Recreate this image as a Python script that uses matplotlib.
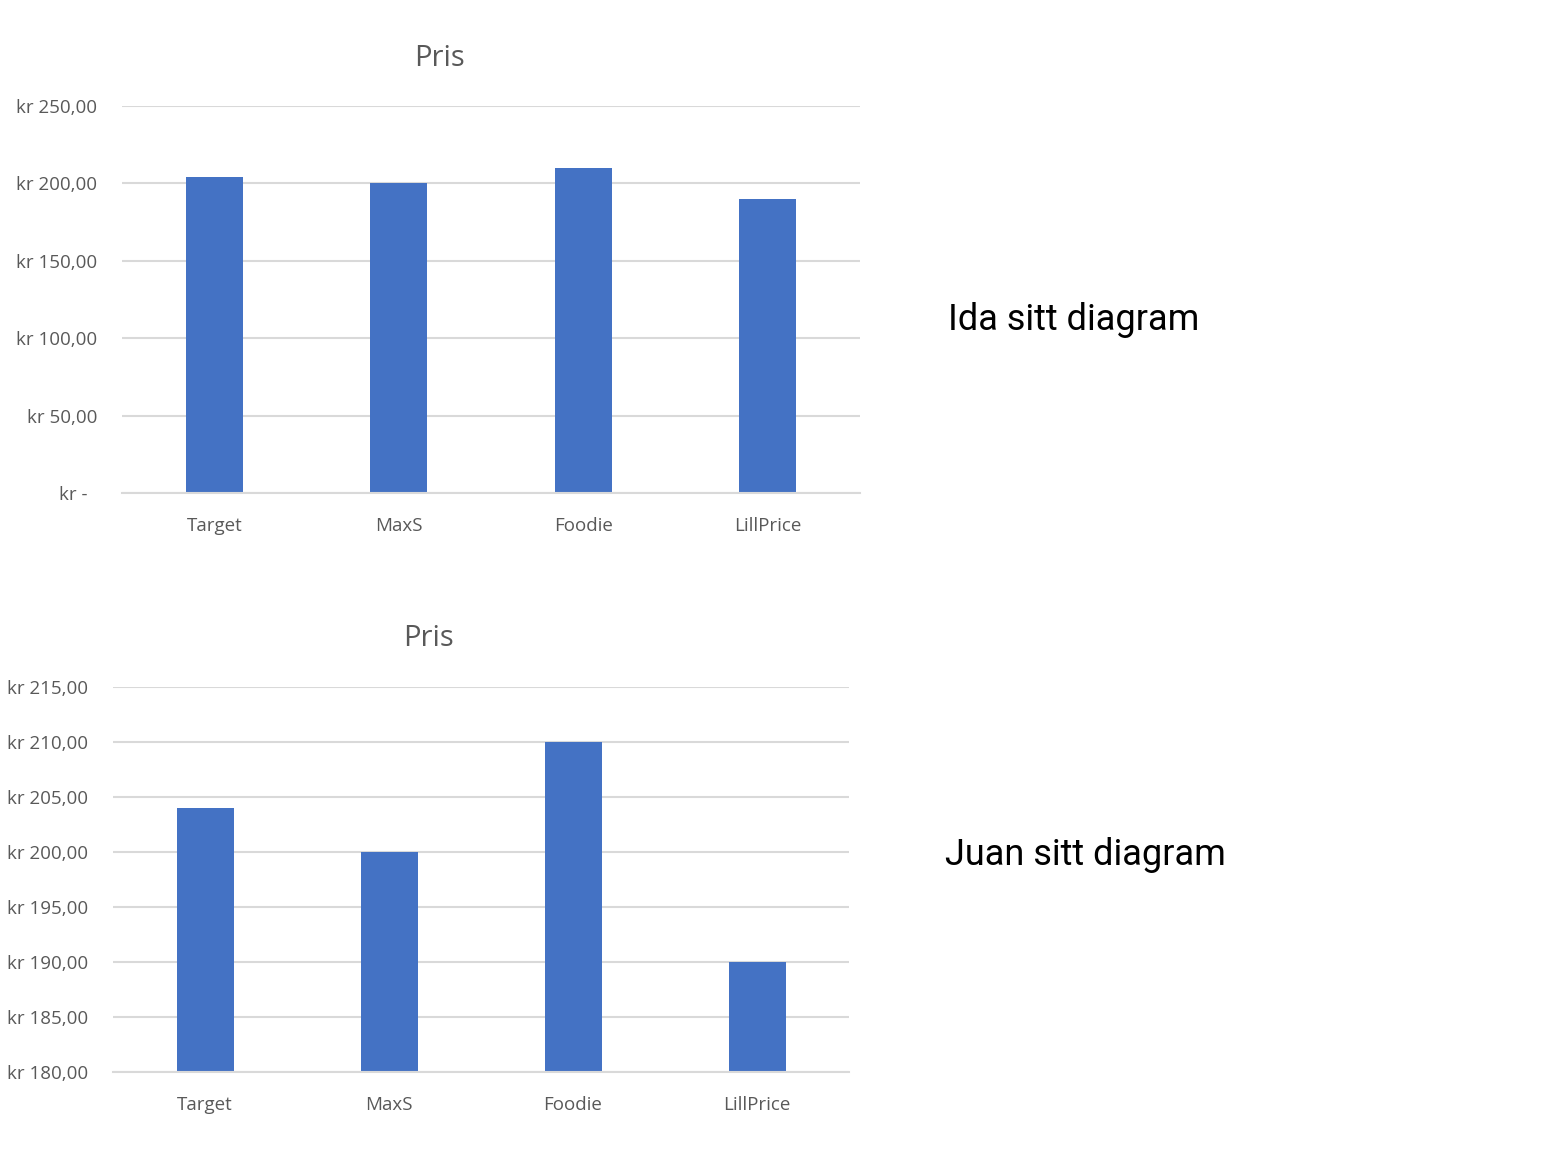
import numpy as np
import matplotlib.pyplot as plt

# Data
stores = ["Target", "MaxS", "Foodie", "LillPrice"]
prices = [204, 200, 210, 190]

ida_ticks = [0, 50, 100, 150, 200, 250]
ida_labels = ["kr -  ", "kr 50,00", "kr 100,00", "kr 150,00", "kr 200,00", "kr 250,00"]
juan_ticks = [180, 185, 190, 195, 200, 205, 210, 215]
juan_labels = ["kr %d,00" % t for t in juan_ticks]

BAR_COLOR = "#4472C4"
GRID_COLOR = "#d9d9d9"
TEXT_COLOR = "#595959"
TICK_FONT = "Open Sans"

fig = plt.figure(figsize=(15.51, 11.70), dpi=100)


def style_axes(ax, ticks, labels, ylim):
    x = np.arange(len(stores))
    ax.bar(x, prices, width=0.31, color=BAR_COLOR, zorder=3)
    ax.set_xlim(-0.5, len(stores) - 0.5)
    ax.set_ylim(*ylim)
    ax.set_yticks(ticks)
    ax.set_yticklabels(labels, fontsize=13.5, color=TEXT_COLOR, family=TICK_FONT)
    ax.set_xticks(x)
    ax.set_xticklabels(stores, fontsize=13.5, color=TEXT_COLOR, family=TICK_FONT)
    ax.tick_params(axis="both", length=0)
    ax.tick_params(axis="y", pad=18)
    ax.tick_params(axis="x", pad=17)
    ax.grid(axis="y", color=GRID_COLOR, linewidth=1.5, zorder=0)
    for s in ["top", "right", "left"]:
        ax.spines[s].set_visible(False)
    ax.spines["bottom"].set_color(GRID_COLOR)
    ax.spines["bottom"].set_linewidth(1.5)
    ax.spines["bottom"].set_zorder(4)


# Ida sitt diagram (top)
ax1 = fig.add_axes([0.0787, 0.5786, 0.4758, 0.3308])
style_axes(ax1, ida_ticks, ida_labels, (0, 250))
fig.text(439 / 1551, 1 - 58 / 1170, "Pris", ha="center", va="center",
         fontsize=21, color=TEXT_COLOR, family=TICK_FONT)

# Juan sitt diagram (bottom)
ax2 = fig.add_axes([0.0729, 0.0838, 0.4745, 0.329])
style_axes(ax2, juan_ticks, juan_labels, (180, 215))
fig.text(428 / 1551, 1 - 639 / 1170, "Pris", ha="center", va="center",
         fontsize=21, color=TEXT_COLOR, family=TICK_FONT)

fig.text(948 / 1551, 1 - 320 / 1170, "Ida sitt diagram", ha="left", va="center",
         fontsize=26, color="black", family="Roboto")
fig.text(945 / 1551, 1 - 855 / 1170, "Juan sitt diagram", ha="left", va="center",
         fontsize=26, color="black", family="Roboto")

fig.savefig("out.png", dpi=100)
